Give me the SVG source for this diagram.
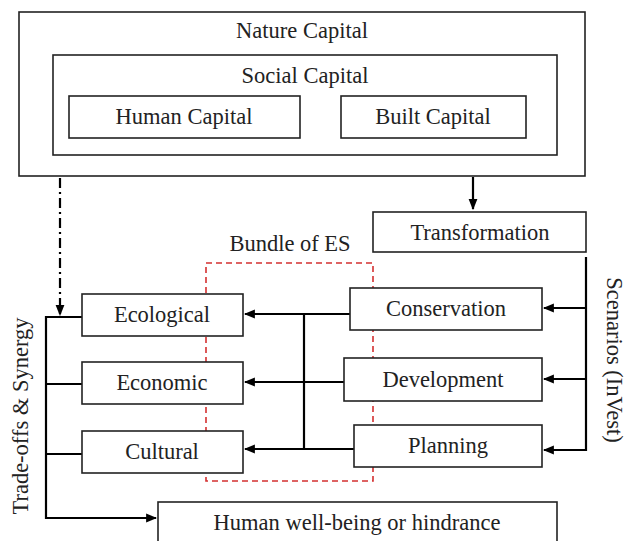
<svg xmlns="http://www.w3.org/2000/svg" width="628" height="541" viewBox="0 0 628 541">
<style>
.box{fill:#fff;stroke:#222;stroke-width:1.6}
.t{font-family:"Liberation Serif","Times New Roman",serif;font-size:22.5px;fill:#222;text-anchor:middle}
.ln{fill:none;stroke:#000;stroke-width:2.2}
</style>
<defs>
<marker id="ah" viewBox="0 0 10 10" refX="9" refY="5" markerWidth="5" markerHeight="5" orient="auto" markerUnits="strokeWidth">
<path d="M0,1 L10,5 L0,9 Z" fill="#000"/>
</marker>
</defs>
<rect width="628" height="541" fill="#fff"/>
<g id="nature"><rect class="box" x="19" y="12" width="566" height="164"/><text class="t" x="302" y="38">Nature Capital</text></g>
<g id="social"><rect class="box" x="53" y="55" width="504" height="100"/><text class="t" x="305" y="83">Social Capital</text></g>
<g id="human"><rect class="box" x="69" y="96" width="231" height="42"/><text class="t" x="184" y="124">Human Capital</text></g>
<g id="built"><rect class="box" x="341" y="96" width="185" height="42"/><text class="t" x="433" y="124">Built Capital</text></g>
<g id="transformation"><rect class="box" x="373" y="212" width="213" height="40"/><text class="t" x="480" y="240">Transformation</text></g>
<g id="bundle"><rect x="206" y="263" width="167" height="218" fill="none" stroke="#d43030" stroke-width="1.6" stroke-dasharray="6,4"/><text class="t" x="290" y="251">Bundle of ES</text></g>
<g id="connectors">
<line class="ln" x1="60" y1="178" x2="60" y2="315" stroke-dasharray="10,4,2,4" marker-end="url(#ah)"/>
<line class="ln" x1="473" y1="177" x2="473" y2="209" marker-end="url(#ah)"/>
<polyline class="ln" points="586,257 586,450 544,450" marker-end="url(#ah)"/>
<line class="ln" x1="586" y1="308" x2="544" y2="308" marker-end="url(#ah)"/>
<line class="ln" x1="586" y1="379" x2="544" y2="379" marker-end="url(#ah)"/>
<line class="ln" x1="350" y1="314" x2="245" y2="314" marker-end="url(#ah)"/>
<line class="ln" x1="344" y1="382" x2="245" y2="382" marker-end="url(#ah)"/>
<line class="ln" x1="354" y1="449" x2="245" y2="449" marker-end="url(#ah)"/>
<line class="ln" x1="304" y1="314" x2="304" y2="449"/>
<polyline class="ln" points="82,317 46,317 46,518 156,518" marker-end="url(#ah)"/>
<line class="ln" x1="46" y1="384" x2="82" y2="384"/>
<line class="ln" x1="46" y1="454" x2="82" y2="454"/>
</g>
<g id="conservation"><rect class="box" x="350" y="288" width="192" height="42"/><text class="t" x="446" y="316">Conservation</text></g>
<g id="development"><rect class="box" x="344" y="358" width="198" height="43"/><text class="t" x="443" y="387">Development</text></g>
<g id="planning"><rect class="box" x="354" y="425" width="188" height="42"/><text class="t" x="448" y="453">Planning</text></g>
<g id="ecological"><rect class="box" x="82" y="294" width="161" height="42"/><text class="t" x="162" y="322">Ecological</text></g>
<g id="economic"><rect class="box" x="82" y="362" width="161" height="42"/><text class="t" x="162" y="390">Economic</text></g>
<g id="cultural"><rect class="box" x="82" y="431" width="161" height="42"/><text class="t" x="162" y="459">Cultural</text></g>
<g id="wellbeing"><rect class="box" x="158" y="502" width="399" height="45"/><text class="t" x="357" y="530">Human well-being or hindrance</text></g>
<g id="labels">
<text class="t" transform="translate(28,416) rotate(-90)">Trade-offs &amp; Synergy</text>
<text class="t" transform="translate(607,360) rotate(90)">Scenarios (InVest)</text>
</g>
</svg>
